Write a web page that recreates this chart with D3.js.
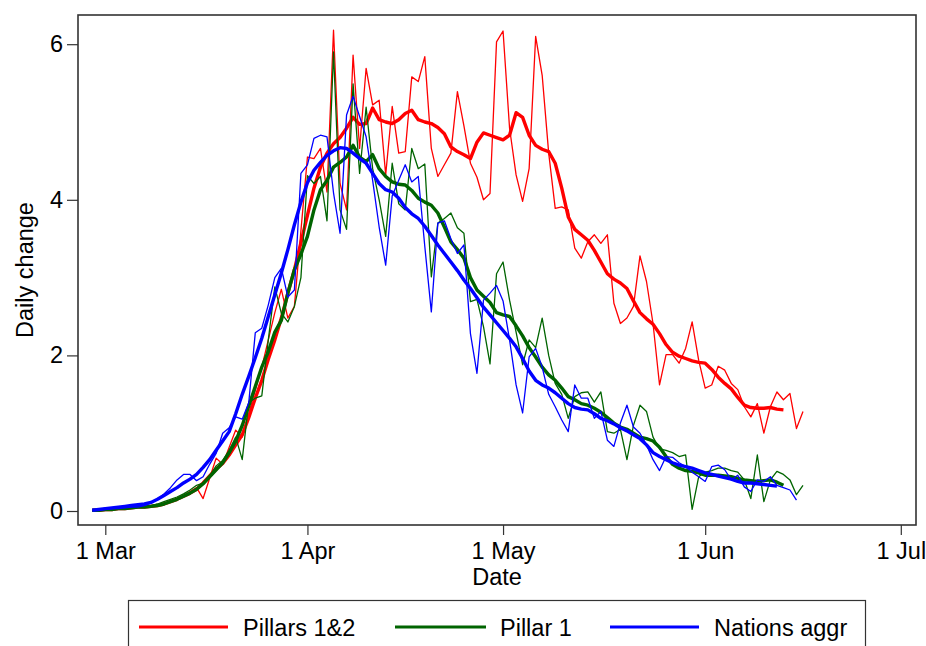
<!DOCTYPE html>
<html><head><meta charset="utf-8">
<script src="https://cdn.jsdelivr.net/npm/d3@7"></script>
<style>
body{margin:0;background:#fff;}
svg{display:block;}
text{font-family:"Liberation Sans",Arial,sans-serif;fill:#000;}
</style>
</head><body>
<svg id="c" width="926" height="646"></svg>
<script>
// ---- data ----
const startDate = [2020, 1, 28]; // first observation: 28 Feb 2020 (UTC y, m0, d)
const seriesNames = ["Pillars 1&2", "Pillar 1", "Nations aggr"];
const seriesColors = ["#ff0000", "#006400", "#0000ff"];

const pillars12Raw = [0.01,0.01,0.01,0.02,0.02,0.03,0.04,0.05,0.05,0.06,0.08,0.10,0.12,0.16,0.20,0.25,0.30,0.16,0.42,0.68,0.60,0.82,1.04,0.95,1.25,1.55,1.85,2.20,2.55,2.85,2.48,2.63,3.60,4.55,4.53,4.66,4.10,6.18,4.21,3.87,5.86,4.66,5.69,5.22,5.28,4.32,5.20,4.60,4.62,5.58,5.52,5.84,4.66,4.30,4.45,4.60,5.39,4.95,4.47,4.29,4.00,4.08,6.03,6.17,4.92,4.32,3.98,4.40,6.10,5.60,4.60,3.89,3.91,3.87,3.38,3.25,3.46,3.55,3.44,3.55,2.67,2.41,2.48,2.63,3.28,2.95,2.41,1.62,2.01,2.01,1.90,2.09,2.43,1.94,1.58,1.62,1.86,1.81,1.64,1.56,1.34,1.21,1.38,1.00,1.34,1.53,1.43,1.51,1.06,1.28];

const pillar1Raw = [0.01,0.01,0.01,0.02,0.02,0.03,0.04,0.05,0.06,0.07,0.09,0.12,0.15,0.18,0.22,0.27,0.33,0.36,0.45,0.58,0.65,0.78,0.95,0.66,1.40,1.45,1.48,2.20,2.88,2.54,2.43,2.63,3.00,4.31,4.21,4.30,3.73,5.90,3.87,3.62,5.49,4.34,5.19,4.40,4.00,3.53,4.47,3.95,3.87,4.66,4.40,4.46,3.01,3.70,3.76,3.83,3.64,3.57,2.69,2.72,2.37,1.89,3.05,3.20,2.71,2.30,1.88,2.20,2.10,2.48,2.00,1.64,1.50,1.19,1.47,1.52,1.53,1.40,1.53,1.02,1.00,1.05,0.66,1.10,1.36,1.28,0.95,0.80,0.78,0.75,0.70,0.72,0.02,0.44,0.50,0.52,0.55,0.55,0.52,0.50,0.40,0.16,0.72,0.12,0.40,0.51,0.47,0.40,0.21,0.33];

const nationsRaw = [0.01,0.01,0.02,0.03,0.03,0.04,0.05,0.05,0.07,0.10,0.15,0.22,0.30,0.40,0.47,0.47,0.39,0.44,0.60,0.74,1.00,1.07,1.21,1.18,1.39,2.29,2.35,2.65,3.00,3.12,2.75,2.84,4.34,4.45,4.79,4.83,4.81,4.09,3.57,5.09,5.33,5.07,4.81,4.25,3.65,3.16,4.05,4.25,4.45,4.23,4.30,3.40,2.56,3.70,3.73,3.50,3.31,3.42,2.28,1.77,2.71,2.80,2.90,2.70,2.20,1.62,1.26,1.98,2.09,1.85,1.50,1.34,1.17,1.02,1.62,1.45,1.45,1.19,1.28,0.91,0.83,1.13,1.36,1.08,1.00,0.85,0.66,0.52,0.70,0.69,0.62,0.57,0.50,0.44,0.38,0.57,0.59,0.53,0.40,0.46,0.31,0.25,0.40,0.38,0.44,0.33,0.30,0.27,0.14];

const pillars12Smooth = [0.01,0.01,0.02,0.02,0.03,0.03,0.04,0.05,0.05,0.06,0.07,0.09,0.12,0.15,0.19,0.23,0.28,0.36,0.45,0.54,0.61,0.72,0.85,0.98,1.20,1.45,1.68,1.95,2.20,2.48,2.80,3.10,3.45,3.80,4.15,4.42,4.60,4.72,4.80,4.92,5.06,4.97,4.98,5.18,5.03,5.00,4.98,5.03,5.11,5.15,5.03,5.00,4.98,4.93,4.85,4.68,4.62,4.58,4.53,4.74,4.86,4.83,4.80,4.77,4.83,5.12,5.06,4.83,4.70,4.65,4.62,4.47,4.15,3.78,3.62,3.55,3.48,3.35,3.20,3.05,2.98,2.93,2.86,2.70,2.55,2.47,2.40,2.28,2.14,2.04,1.99,1.96,1.93,1.91,1.90,1.82,1.72,1.64,1.57,1.46,1.36,1.33,1.32,1.32,1.33,1.31,1.30];

const pillar1Smooth = [0.01,0.01,0.02,0.02,0.03,0.03,0.04,0.05,0.05,0.06,0.07,0.09,0.12,0.15,0.19,0.23,0.28,0.35,0.44,0.53,0.62,0.75,0.90,1.10,1.35,1.60,1.85,2.05,2.30,2.45,2.80,3.10,3.30,3.53,3.87,4.13,4.25,4.42,4.48,4.55,4.70,4.55,4.49,4.58,4.40,4.30,4.23,4.20,4.19,4.12,4.02,3.97,3.93,3.83,3.65,3.46,3.36,3.25,3.00,2.84,2.76,2.68,2.55,2.52,2.50,2.38,2.25,2.10,1.98,1.85,1.75,1.68,1.58,1.47,1.43,1.38,1.36,1.32,1.27,1.20,1.13,1.08,1.05,1.00,0.95,0.93,0.90,0.82,0.70,0.60,0.55,0.52,0.51,0.49,0.46,0.46,0.46,0.45,0.44,0.42,0.40,0.39,0.38,0.39,0.40,0.37,0.33];

const nationsSmooth = [0.01,0.02,0.03,0.04,0.05,0.06,0.07,0.08,0.09,0.11,0.15,0.20,0.25,0.30,0.36,0.41,0.47,0.56,0.66,0.78,0.90,1.02,1.25,1.50,1.73,1.97,2.22,2.50,2.78,3.06,3.36,3.68,3.97,4.22,4.38,4.48,4.57,4.63,4.67,4.66,4.60,4.53,4.47,4.34,4.21,4.13,4.10,4.02,3.90,3.82,3.76,3.66,3.54,3.42,3.31,3.20,3.09,2.97,2.86,2.74,2.62,2.52,2.42,2.32,2.22,2.11,1.96,1.80,1.68,1.62,1.58,1.52,1.45,1.38,1.33,1.31,1.30,1.25,1.19,1.16,1.12,1.07,1.03,0.98,0.93,0.85,0.75,0.70,0.66,0.62,0.59,0.57,0.55,0.52,0.49,0.47,0.45,0.43,0.41,0.38,0.36,0.36,0.35,0.34,0.33,0.32];

const xTickLabels = ["1 Mar", "1 Apr", "1 May", "1 Jun", "1 Jul"];
const xTickDates = [[2020,2,1],[2020,3,1],[2020,4,1],[2020,5,1],[2020,6,1]];
const yTicks = [0, 2, 4, 6];
const xTitle = "Date";
const yTitle = "Daily change";

// ---- drawing ----
const svg = d3.select("#c");
const plot = {left: 78, right: 916, top: 15, bottom: 525};
const FONT = 23.5;

const toDate = (a, off=0) => new Date(Date.UTC(a[0], a[1], a[2] + off));
const x = d3.scaleUtc()
  .domain([toDate(xTickDates[0]), toDate(xTickDates[4])])
  .range([105.3, 900.8]);
const y = d3.scaleLinear().domain([0, 6]).range([511, 44.2]);

svg.append("rect").attr("width", 926).attr("height", 646).attr("fill", "#fff");

svg.append("clipPath").attr("id", "clip").append("rect")
  .attr("x", plot.left).attr("y", plot.top)
  .attr("width", plot.right - plot.left).attr("height", plot.bottom - plot.top);

const toPts = arr => arr.map((v, i) => ({date: toDate(startDate, i), v}));
const line = d3.line().x(d => x(d.date)).y(d => y(d.v));

const layers = [
  {data: pillars12Raw, c: 0, w: 1.3},
  {data: pillars12Smooth, c: 0, w: 3.4},
  {data: pillar1Raw, c: 1, w: 1.3},
  {data: pillar1Smooth, c: 1, w: 3.4},
  {data: nationsRaw, c: 2, w: 1.3},
  {data: nationsSmooth, c: 2, w: 3.4}
];
const g = svg.append("g").attr("clip-path", "url(#clip)");
layers.forEach(L => {
  g.append("path").datum(toPts(L.data))
    .attr("d", line).attr("fill", "none")
    .attr("stroke", seriesColors[L.c]).attr("stroke-width", L.w)
    .attr("stroke-linejoin", "round");
});

// frame
svg.append("rect").attr("x", plot.left).attr("y", plot.top)
  .attr("width", plot.right - plot.left).attr("height", plot.bottom - plot.top)
  .attr("fill", "none").attr("stroke", "#333").attr("stroke-width", 1.6);

// y axis
const ya = svg.append("g").attr("transform", `translate(${plot.left},0)`)
  .call(d3.axisLeft(y).tickValues(yTicks).tickFormat(d3.format("d")).tickSize(11).tickPadding(4));
ya.select(".domain").remove();
ya.selectAll("line").attr("stroke", "#333").attr("stroke-width", 1.2);
ya.selectAll("text").attr("font-size", FONT).attr("font-family", "Liberation Sans, Arial, sans-serif").attr("fill", "#000");

// x axis
const xa = svg.append("g").attr("transform", `translate(0,${plot.bottom})`)
  .call(d3.axisBottom(x).tickValues(xTickDates.map(a => toDate(a)))
    .tickFormat((d, i) => xTickLabels[i]).tickSize(10).tickPadding(7));
xa.select(".domain").remove();
xa.selectAll("line").attr("stroke", "#333").attr("stroke-width", 1.2);
xa.selectAll("text").attr("font-size", FONT).attr("font-family", "Liberation Sans, Arial, sans-serif").attr("fill", "#000");

// titles
svg.append("text").attr("x", (plot.left + plot.right) / 2).attr("y", 585)
  .attr("text-anchor", "middle").attr("font-size", FONT).text(xTitle);
svg.append("text").attr("transform", `translate(33,${(plot.top + plot.bottom) / 2}) rotate(-90)`)
  .attr("text-anchor", "middle").attr("font-size", FONT).text(yTitle);

// legend
const lg = svg.append("g");
lg.append("rect").attr("x", 128.5).attr("y", 600.5).attr("width", 737).attr("height", 70)
  .attr("fill", "#fff").attr("stroke", "#333").attr("stroke-width", 1.2);
const legX = [[139, 228, 243], [395, 486, 500], [610, 699, 714]];
seriesNames.forEach((n, i) => {
  lg.append("line").attr("x1", legX[i][0]).attr("x2", legX[i][1]).attr("y1", 627).attr("y2", 627)
    .attr("stroke", seriesColors[i]).attr("stroke-width", 3);
  lg.append("text").attr("x", legX[i][2]).attr("y", 636).attr("font-size", FONT).text(n);
});
</script>
</body></html>
